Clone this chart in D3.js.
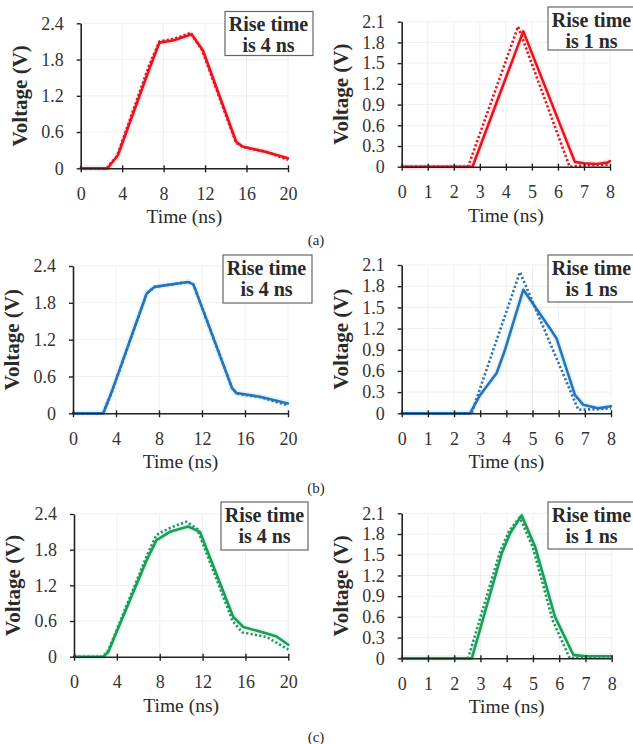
<!DOCTYPE html>
<html>
<head>
<meta charset="utf-8">
<script src="https://cdn.jsdelivr.net/npm/d3@7"></script>
<style>
  html, body { margin: 0; padding: 0; background: #fff; }
  svg { display: block; }
</style>
</head>
<body>
<svg id="fig" width="633" height="744"></svg>
<script>
// ---- Data: time in ns, voltage in V ----
// Row (a), 4 ns rise time
const a4SolidT = [0, 2.6, 3.6, 6.7, 7.6, 9.0, 10.7, 11.8, 15.0, 15.6, 17.9, 20];
const a4SolidV = [0, 0, 0.22, 1.68, 2.08, 2.12, 2.22, 1.95, 0.44, 0.36, 0.27, 0.165];
const a4DotT   = [0, 2.5, 3.5, 6.6, 7.6, 9.0, 10.6, 11.7, 15.0, 15.7, 18.0, 20];
const a4DotV   = [0, 0, 0.2, 1.7, 2.1, 2.14, 2.24, 1.96, 0.42, 0.35, 0.27, 0.14];
// Row (a), 1 ns rise time
const a1SolidT = [0, 2.72, 4.67, 6.65, 7.0, 7.5, 7.9, 8];
const a1SolidV = [0, 0, 1.96, 0.07, 0.05, 0.04, 0.06, 0.08];
const a1DotT   = [0, 2.55, 4.47, 6.45, 7.0, 8];
const a1DotV   = [0, 0, 2.03, 0.0, 0.02, 0.03];
// Row (b), 4 ns rise time
const b4SolidT = [0, 2.82, 3.6, 6.85, 7.6, 10.7, 11.2, 11.8, 14.8, 15.2, 17.4, 20];
const b4SolidV = [0, 0, 0.35, 1.95, 2.06, 2.14, 2.1, 1.82, 0.41, 0.33, 0.27, 0.16];
const b4DotT   = [0, 2.8, 3.6, 6.85, 7.6, 10.7, 11.2, 11.8, 14.8, 15.3, 17.5, 20];
const b4DotV   = [0, 0, 0.34, 1.95, 2.06, 2.14, 2.1, 1.82, 0.41, 0.32, 0.26, 0.13];
// Row (b), 1 ns rise time
const b1SolidT = [0, 2.61, 3.0, 3.63, 3.95, 4.65, 5.67, 5.92, 6.62, 6.94, 7.5, 8];
const b1SolidV = [0, 0, 0.26, 0.57, 0.9, 1.75, 1.2, 1.06, 0.26, 0.12, 0.07, 0.1];
const b1DotT   = [0, 2.67, 4.52, 5.78, 6.75, 7.5, 8];
const b1DotV   = [0, 0, 2.0, 0.9, 0.05, 0.06, 0.07];
// Row (c), 4 ns rise time
const c4SolidT = [0, 2.73, 3.2, 3.8, 6.8, 7.7, 8.95, 10.66, 11.75, 14.86, 15.8, 18.0, 18.9, 20];
const c4SolidV = [0, 0, 0.08, 0.34, 1.63, 1.96, 2.1, 2.19, 2.1, 0.67, 0.5, 0.39, 0.34, 0.2];
const c4DotT   = [0, 2.6, 3.1, 3.7, 6.8, 7.7, 9.0, 10.5, 11.5, 14.8, 15.7, 18.0, 20];
const c4DotV   = [0, 0, 0.07, 0.32, 1.7, 2.05, 2.17, 2.27, 2.15, 0.6, 0.41, 0.33, 0.12];
// Row (c), 1 ns rise time
const c1SolidT = [0, 2.67, 3.81, 4.13, 4.57, 5.08, 5.84, 6.54, 7.0, 8];
const c1SolidV = [0, 0, 1.52, 1.81, 2.07, 1.62, 0.6, 0.05, 0.03, 0.03];
const c1DotT   = [0, 2.53, 3.75, 4.1, 4.5, 5.0, 5.75, 6.4, 7.0, 8];
const c1DotV   = [0, 0, 1.55, 1.85, 2.04, 1.6, 0.55, 0.0, 0.02, 0.03];

// ---- Tick labels ----
const xTicksSlow = [0, 4, 8, 12, 16, 20];
const xTicksFast = [0, 1, 2, 3, 4, 5, 6, 7, 8];
const yTicksSlow = [0, 0.6, 1.2, 1.8, 2.4];
const yTicksFast = [0, 0.3, 0.6, 0.9, 1.2, 1.5, 1.8, 2.1];
const yFmtSlow = ["0", "0.6", "1.2", "1.8", "2.4"];
const yFmtFast = ["0", "0.3", "0.6", "0.9", "1.2", "1.5", "1.8", "2.1"];

const noteSlow = ["Rise time", "is 4 ns"];
const noteFast = ["Rise time", "is 1 ns"];
const captions = ["(a)", "(b)", "(c)"];

const colors = { a: "#e3161f", b: "#2c72b4", c: "#1f9a5c" };
const halos  = { a: "#ffb3bd", b: "#9fe6ff", c: "#9ff0c4" };
const serif = "'Liberation Serif', 'Times New Roman', serif";
const ink = "#2a2a2a";

const zip = (T, V) => T.map((t, i) => ({ t, v: V[i] }));

// ---- Panel layout (pixel frames of each plot area) ----
const panels = [
  { row: "a", x0: 80.7, x1: 288, y0: 168.3, y1: 23.3, xMax: 20, yMax: 2.4, xt: xTicksSlow, yt: yTicksSlow, yf: yFmtSlow,
    solid: zip(a4SolidT, a4SolidV), dot: zip(a4DotT, a4DotV), note: noteSlow, box: [225, 11.5, 88, 44] },
  { row: "a", x0: 401.7, x1: 610, y0: 166.7, y1: 21.7, xMax: 8, yMax: 2.1, xt: xTicksFast, yt: yTicksFast, yf: yFmtFast,
    solid: zip(a1SolidT, a1SolidV), dot: zip(a1DotT, a1DotV), note: noteFast, box: [548, 7, 90, 43] },
  { row: "b", x0: 73, x1: 288, y0: 413.3, y1: 266, xMax: 20, yMax: 2.4, xt: xTicksSlow, yt: yTicksSlow, yf: yFmtSlow,
    solid: zip(b4SolidT, b4SolidV), dot: zip(b4DotT, b4DotV), note: noteSlow, box: [223, 255, 89, 48] },
  { row: "b", x0: 401.7, x1: 611, y0: 413.3, y1: 265, xMax: 8, yMax: 2.1, xt: xTicksFast, yt: yTicksFast, yf: yFmtFast,
    solid: zip(b1SolidT, b1SolidV), dot: zip(b1DotT, b1DotV), note: noteFast, box: [548, 255, 90, 47] },
  { row: "c", x0: 74, x1: 288.3, y0: 656.7, y1: 514, xMax: 20, yMax: 2.4, xt: xTicksSlow, yt: yTicksSlow, yf: yFmtSlow,
    solid: zip(c4SolidT, c4SolidV), dot: zip(c4DotT, c4DotV), note: noteSlow, box: [221, 502, 87, 48] },
  { row: "c", x0: 401.7, x1: 611.7, y0: 658.3, y1: 513.3, xMax: 8, yMax: 2.1, xt: xTicksFast, yt: yTicksFast, yf: yFmtFast,
    solid: zip(c1SolidT, c1SolidV), dot: zip(c1DotT, c1DotV), note: noteFast, box: [548, 502, 90, 47] }
];

const svg = d3.select("#fig");

panels.forEach(p => {
  const x = d3.scaleLinear().domain([0, p.xMax]).range([p.x0, p.x1]);
  const y = d3.scaleLinear().domain([0, p.yMax]).range([p.y0, p.y1]);
  const g = svg.append("g");

  // faint gridlines
  g.append("g").selectAll("line").data(p.xt.slice(1)).join("line")
    .attr("x1", d => x(d)).attr("x2", d => x(d))
    .attr("y1", p.y0).attr("y2", p.y1)
    .attr("stroke", "#efefef").attr("stroke-width", 1);
  g.append("g").selectAll("line").data(p.yt.slice(1)).join("line")
    .attr("x1", p.x0).attr("x2", p.x1)
    .attr("y1", d => y(d)).attr("y2", d => y(d))
    .attr("stroke", "#efefef").attr("stroke-width", 1);

  const line = d3.line().x(d => x(d.t)).y(d => y(d.v));

  // soft halo under the traces
  g.append("path").datum(p.solid).attr("d", line)
    .attr("fill", "none").attr("stroke", halos[p.row]).attr("stroke-width", 6)
    .attr("stroke-opacity", 0.35).attr("stroke-linejoin", "round");

  // dotted trace
  g.append("path").datum(p.dot).attr("d", line)
    .attr("fill", "none").attr("stroke", colors[p.row]).attr("stroke-width", 2.6)
    .attr("stroke-dasharray", "2.2,2.2").attr("stroke-linejoin", "round");

  // solid trace
  g.append("path").datum(p.solid).attr("d", line)
    .attr("fill", "none").attr("stroke", colors[p.row]).attr("stroke-width", 2.6)
    .attr("stroke-linejoin", "round").attr("stroke-linecap", "round");

  // x axis
  const xa = g.append("g").attr("transform", `translate(0,${p.y0})`)
    .call(d3.axisBottom(x).tickValues(p.xt).tickFormat(d3.format("d")).tickSizeInner(4).tickSizeOuter(0).tickPadding(15));
  xa.select(".domain").attr("stroke", "#222").attr("stroke-width", 1.6);
  xa.selectAll(".tick line").attr("y1", -3).attr("stroke", "#222").attr("stroke-width", 1.4);
  xa.selectAll(".tick text").style("font-family", serif).style("font-size", "18px").style("fill", "#333");

  // y axis
  const ya = g.append("g").attr("transform", `translate(${p.x0},0)`)
    .call(d3.axisLeft(y).tickValues(p.yt).tickFormat((d, i) => p.yf[i]).tickSizeInner(4).tickSizeOuter(0).tickPadding(13));
  ya.select(".domain").attr("stroke", "#222").attr("stroke-width", 1.6);
  ya.selectAll(".tick line").attr("stroke", "#222").attr("stroke-width", 1.4);
  ya.selectAll(".tick text").style("font-family", serif).style("font-size", "18px").style("fill", "#333");

  // axis titles
  g.append("text")
    .attr("x", (p.x0 + p.x1) / 2).attr("y", p.y0 + 55)
    .attr("text-anchor", "middle")
    .style("font-family", serif).style("font-size", "19.5px").style("fill", ink)
    .text("Time (ns)");
  g.append("text")
    .attr("transform", `translate(${p.x0 - 54},${(p.y0 + p.y1) / 2}) rotate(-90)`)
    .attr("text-anchor", "middle")
    .style("font-family", serif).style("font-size", "21px").style("font-weight", "bold").style("fill", ink)
    .text("Voltage (V)");

  // annotation box
  const [bx, by, bw, bh] = p.box;
  g.append("rect").attr("x", bx).attr("y", by).attr("width", bw).attr("height", bh)
    .attr("fill", "#fff").attr("stroke", "#666").attr("stroke-width", 1.2);
  p.note.forEach((s, i) => {
    g.append("text").attr("x", bx + 43.5).attr("y", by + 19.5 + i * 21)
      .attr("text-anchor", "middle")
      .style("font-family", serif).style("font-size", "20px").style("font-weight", "bold").style("fill", ink)
      .text(s);
  });
});

// sub-figure captions
const capY = [245, 493, 742];
captions.forEach((c, i) => {
  svg.append("text").attr("x", 316).attr("y", capY[i])
    .attr("text-anchor", "middle")
    .style("font-family", serif).style("font-size", "15px").style("fill", ink)
    .text(c);
});
</script>
</body>
</html>
